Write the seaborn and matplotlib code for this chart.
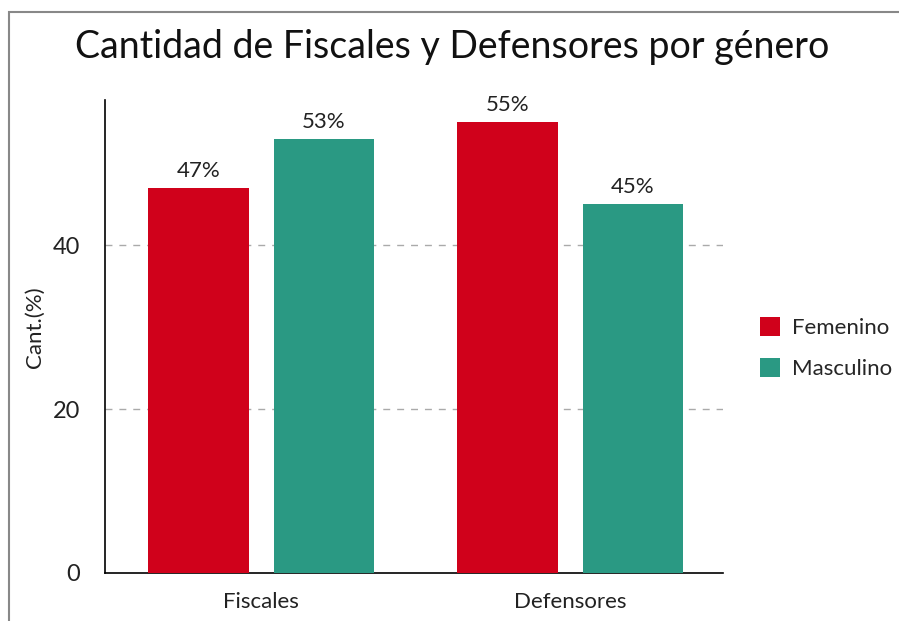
import pandas as pd
import matplotlib.pyplot as plt
import seaborn as sns
from matplotlib.patches import Rectangle


grupos = ["Fiscales", "Defensores"]
generos = ["Femenino", "Masculino"]
femenino = [47, 55]
masculino = [53, 45]
colores = ["#D0011B", "#2A9983"]


df = pd.DataFrame({
    "grupo": grupos * 2,
    "genero": [generos[0]] * 2 + [generos[1]] * 2,
    "valor": femenino + masculino,
})

sns.set_style("white")
plt.rcParams["font.family"] = ["Lato", "DejaVu Sans"]

fig = plt.figure(figsize=(8.99, 6.21), dpi=100)
ax = fig.add_axes([0.1168, 0.0773, 0.6874, 0.7617])

sns.barplot(
    data=df, x="grupo", y="valor", hue="genero",
    order=grupos, hue_order=generos, palette=colores,
    width=0.81, gap=0.2, saturation=1, ax=ax, zorder=3,
    linewidth=0,
)

for c in ax.containers:
    ax.bar_label(c, labels=[f"{v:.0f}%" for v in c.datavalues],
                 padding=5, fontsize=16, color="#222222")

ax.set_xlim(-0.505, 1.495)
ax.set_ylim(0, 57.7)
ax.set_yticks([0, 20, 40])
for y in [20, 40]:
    ax.axhline(y, color="#AAAAAA", linestyle=(0, (5, 5)), linewidth=1, zorder=1)

ax.set_xlabel("")
ax.set_ylabel("Cant.(%)", fontsize=16, color="#222222")
ax.yaxis.set_label_coords(-0.098, 0.52)
ax.tick_params(axis="y", length=0, pad=18, labelsize=17, labelcolor="#222222")
ax.tick_params(axis="x", length=0, pad=14, labelsize=16, labelcolor="#222222")

sns.despine(ax=ax)
ax.spines["left"].set_color("black")
ax.spines["bottom"].set_color("black")
ax.spines["left"].set_linewidth(1.2)
ax.spines["bottom"].set_linewidth(1.2)

ax.legend(
    loc="center left", bbox_to_anchor=(0.845, 0.439), bbox_transform=fig.transFigure,
    frameon=False, fontsize=16, handlelength=0.9, handleheight=0.9,
    labelspacing=0.9, handletextpad=0.55, borderpad=0, borderaxespad=0,
)

fig.suptitle("Cantidad de Fiscales y Defensores por género",
             x=0.503, y=0.924, va="center", fontsize=27, color="#111111")

fig.patches.append(Rectangle((0.01, -0.1), 1.2, 1.081, transform=fig.transFigure,
                             fill=False, edgecolor="#888888", linewidth=1.5))

plt.savefig("out.png", dpi=100)
